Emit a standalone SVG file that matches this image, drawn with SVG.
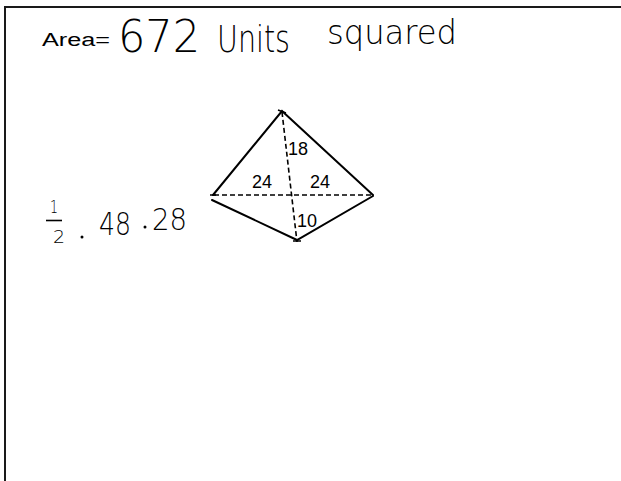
<svg xmlns="http://www.w3.org/2000/svg" width="621" height="481" viewBox="0 0 621 481">
<style>
.frame{fill:none;stroke:#1a1a1a;stroke-width:2}
.edge{fill:none;stroke:#000;stroke-width:2;stroke-linecap:round}
.dash{fill:none;stroke:#000;stroke-width:1.6;stroke-dasharray:5,3}
.tick{stroke:#000;stroke-width:1.5}
.lbl{font-family:"Liberation Sans",Arial,sans-serif;font-size:18px;fill:#000}
.hand{font-family:"DejaVu Sans","Noto Sans",sans-serif;font-weight:200;fill:#000}
</style>
<rect width="621" height="481" fill="#fff"/>
<g id="frame">
<path class="frame" d="M5,481 V7 H621"/>
</g>
<g id="title">
<text class="lbl" x="42" y="46" font-size="23" textLength="68" lengthAdjust="spacingAndGlyphs">Area=</text>
<text class="hand" x="118" y="52" font-size="44" textLength="82" lengthAdjust="spacingAndGlyphs">672</text>
<text class="hand" x="217" y="52" font-size="38" textLength="73" lengthAdjust="spacingAndGlyphs">Units</text>
<text class="hand" x="327" y="44" font-size="34" textLength="130" lengthAdjust="spacingAndGlyphs">squared</text>
</g>
<g id="work">
<text class="hand" x="50" y="213" font-size="18" textLength="8" lengthAdjust="spacingAndGlyphs">1</text>
<line x1="46" y1="220.5" x2="62" y2="220.5" stroke="#000" stroke-width="1.6"/>
<text class="hand" x="53" y="243" font-size="18" textLength="12" lengthAdjust="spacingAndGlyphs">2</text>
<circle cx="82" cy="237" r="1.5" fill="#000"/>
<text class="hand" x="99" y="235" font-size="32" textLength="32" lengthAdjust="spacingAndGlyphs">48</text>
<circle cx="145" cy="227" r="1.5" fill="#000"/>
<text class="hand" x="152" y="230" font-size="30" textLength="35" lengthAdjust="spacingAndGlyphs">28</text>
</g>
<g id="connectors">
<path class="edge" d="M213,195 L282,111 L373,195"/>
<path class="edge" d="M212,200 L297,240 L373,196"/>
<line class="dash" x1="214" y1="195" x2="372" y2="195"/>
<line class="dash" x1="282" y1="112" x2="297" y2="242"/>
<path class="tick" d="M278,110 L286,113 M293,241 L301,241 M210,195 L216,195"/>
</g>
<g id="labels">
<text class="lbl" x="288" y="155">18</text>
<text class="lbl" x="252" y="188">24</text>
<text class="lbl" x="310" y="188">24</text>
<text class="lbl" x="297" y="227">10</text>
</g>
</svg>
